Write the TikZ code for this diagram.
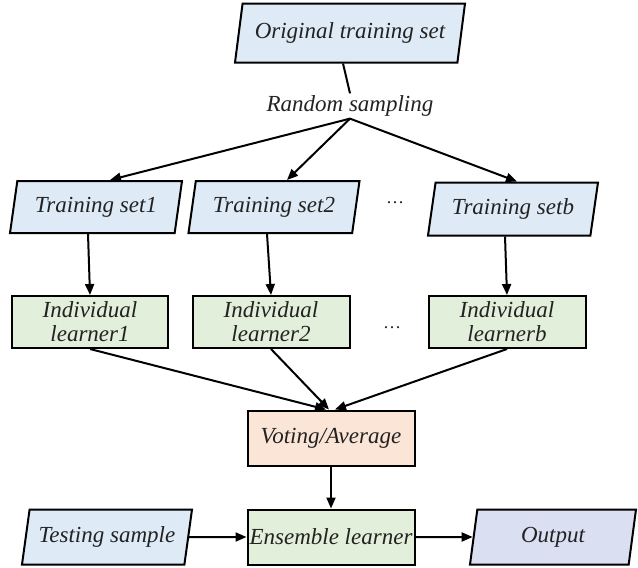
\documentclass[tikz,border=0pt]{standalone}
\usepackage{fontspec}
\setmainfont{Liberation Serif}[ItalicFont=Liberation Serif Italic]
\usetikzlibrary{shapes.geometric,arrows.meta}
\definecolor{blueF}{HTML}{DEEAF6}
\definecolor{greenF}{HTML}{E2EFDA}
\definecolor{orangeF}{HTML}{FBE5D6}
\definecolor{outF}{HTML}{DADFF2}
\definecolor{txt}{HTML}{222222}
\begin{document}
\begin{tikzpicture}[x=1pt,y=-1pt,
  every node/.style={font=\fontsize{23}{24}\selectfont\itshape, text=txt},
  para/.style={draw, line width=2pt, trapezium, trapezium left angle=70, trapezium right angle=110, trapezium stretches body, inner sep=0pt, fill=blueF},
  box/.style={draw, line width=2pt, rectangle, inner sep=0pt, align=center},
  arr/.style={line width=2pt, -{Triangle[length=11pt,width=9pt]}},
  dotsnode/.style={font=\fontsize{18}{20}\selectfont},
]
\useasboundingbox (0,0) rectangle (638,568);

\node[para, minimum width=230pt, minimum height=59pt] (orig) at (350,33) {Original training set};
\node[inner sep=2pt] (rs) at (350,106) {Random sampling};

\node[para, minimum width=172pt, minimum height=52pt] (ts1) at (96,207) {Training set1};
\node[para, minimum width=171pt, minimum height=52pt] (ts2) at (274,207) {Training set2};
\node[para, minimum width=170pt, minimum height=53pt] (tsb) at (513,209) {Training setb};
\node[dotsnode] (d1) at (395,203) {\dots};

\node[box, fill=greenF, minimum width=156pt, minimum height=52pt] (il1) at (90,322) {Individual\\learner1};
\node[box, fill=greenF, minimum width=157pt, minimum height=52pt] (il2) at (271,322) {Individual\\learner2};
\node[box, fill=greenF, minimum width=157pt, minimum height=52pt] (ilb) at (507,322) {Individual\\learnerb};
\node[dotsnode] (d2) at (392,328) {\dots};

\node[box, fill=orangeF, minimum width=167pt, minimum height=55pt] (vote) at (331,438) {Voting/Average};
\node[box, fill=greenF, minimum width=167pt, minimum height=55pt] (ens) at (331,537) {Ensemble learner};
\node[para, minimum width=170pt, minimum height=55pt] (test) at (107,537) {Testing sample};
\node[para, fill=outF, minimum width=166pt, minimum height=55pt] (out) at (553,537) {Output};

\draw[line width=2pt] ([xshift=-7pt]orig.south) -- (rs.north);
\draw[arr] (rs.south) -- ([xshift=14pt]ts1.north);
\draw[arr] (rs.south) -- ([xshift=13pt]ts2.north);
\draw[arr] (rs.south) -- ([xshift=4pt]tsb.north);

\draw[arr] ([xshift=-8pt]ts1.south) -- (il1.north);
\draw[arr] ([xshift=-7pt]ts2.south) -- (il2.north);
\draw[arr] ([xshift=-8pt]tsb.south) -- (ilb.north);

\draw[arr] (il1.south) -- ([xshift=-5pt]vote.north);
\draw[arr] (il2.south) -- ([xshift=-2pt]vote.north);
\draw[arr] (ilb.south) -- ([xshift=4pt]vote.north);

\draw[arr] (vote.south) -- (ens.north);
\draw[arr] (test.east) -- (ens.west);
\draw[arr] (ens.east) -- (out.west);
\end{tikzpicture}
\end{document}
